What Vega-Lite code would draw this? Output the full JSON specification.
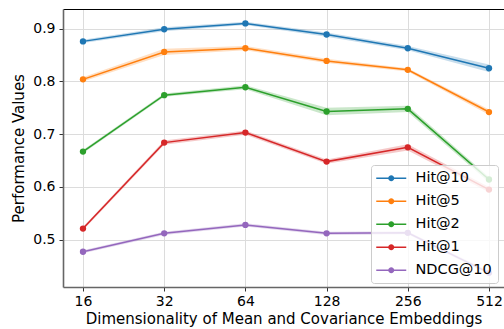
{
  "$schema": "https://vega.github.io/schema/vega-lite/v6.json",
  "width": 441,
  "height": 278,
  "autosize": {"type": "none"},
  "padding": {"left": 63, "top": 9, "right": 0, "bottom": 42},
  "config": {
    "font": "DejaVu Sans",
    "view": {"stroke": null},
    "axis": {
      "labelFont": "DejaVu Sans",
      "labelFontSize": 14,
      "labelColor": "#000000",
      "titleFont": "DejaVu Sans",
      "titleFontSize": 15,
      "titleFontWeight": "normal",
      "titleColor": "#000000",
      "gridColor": "#dcdcdc",
      "gridWidth": 1,
      "tickColor": "#333333",
      "tickSize": 4,
      "tickWidth": 1,
      "domainColor": "#666666",
      "domainWidth": 1.6
    },
    "legend": {
      "labelFont": "DejaVu Sans",
      "labelFontSize": 14.5,
      "labelColor": "#000000"
    }
  },
  "data": {
    "values": [
      {"dim": 16, "metric": "Hit@10", "value": 0.876, "lo": 0.873, "hi": 0.879},
      {"dim": 32, "metric": "Hit@10", "value": 0.899, "lo": 0.895, "hi": 0.903},
      {"dim": 64, "metric": "Hit@10", "value": 0.910, "lo": 0.907, "hi": 0.913},
      {"dim": 128, "metric": "Hit@10", "value": 0.889, "lo": 0.885, "hi": 0.893},
      {"dim": 256, "metric": "Hit@10", "value": 0.863, "lo": 0.859, "hi": 0.867},
      {"dim": 512, "metric": "Hit@10", "value": 0.825, "lo": 0.818, "hi": 0.832},
      {"dim": 16, "metric": "Hit@5", "value": 0.804, "lo": 0.800, "hi": 0.808},
      {"dim": 32, "metric": "Hit@5", "value": 0.856, "lo": 0.850, "hi": 0.862},
      {"dim": 64, "metric": "Hit@5", "value": 0.863, "lo": 0.859, "hi": 0.867},
      {"dim": 128, "metric": "Hit@5", "value": 0.839, "lo": 0.835, "hi": 0.843},
      {"dim": 256, "metric": "Hit@5", "value": 0.822, "lo": 0.819, "hi": 0.825},
      {"dim": 512, "metric": "Hit@5", "value": 0.742, "lo": 0.737, "hi": 0.747},
      {"dim": 16, "metric": "Hit@2", "value": 0.667, "lo": 0.664, "hi": 0.670},
      {"dim": 32, "metric": "Hit@2", "value": 0.774, "lo": 0.771, "hi": 0.777},
      {"dim": 64, "metric": "Hit@2", "value": 0.789, "lo": 0.785, "hi": 0.793},
      {"dim": 128, "metric": "Hit@2", "value": 0.743, "lo": 0.736, "hi": 0.750},
      {"dim": 256, "metric": "Hit@2", "value": 0.748, "lo": 0.742, "hi": 0.754},
      {"dim": 512, "metric": "Hit@2", "value": 0.614, "lo": 0.609, "hi": 0.619},
      {"dim": 16, "metric": "Hit@1", "value": 0.521, "lo": 0.518, "hi": 0.524},
      {"dim": 32, "metric": "Hit@1", "value": 0.684, "lo": 0.680, "hi": 0.688},
      {"dim": 64, "metric": "Hit@1", "value": 0.703, "lo": 0.699, "hi": 0.707},
      {"dim": 128, "metric": "Hit@1", "value": 0.648, "lo": 0.644, "hi": 0.652},
      {"dim": 256, "metric": "Hit@1", "value": 0.675, "lo": 0.669, "hi": 0.681},
      {"dim": 512, "metric": "Hit@1", "value": 0.595, "lo": 0.590, "hi": 0.600},
      {"dim": 16, "metric": "NDCG@10", "value": 0.477, "lo": 0.474, "hi": 0.480},
      {"dim": 32, "metric": "NDCG@10", "value": 0.512, "lo": 0.509, "hi": 0.515},
      {"dim": 64, "metric": "NDCG@10", "value": 0.528, "lo": 0.525, "hi": 0.531},
      {"dim": 128, "metric": "NDCG@10", "value": 0.512, "lo": 0.509, "hi": 0.515},
      {"dim": 256, "metric": "NDCG@10", "value": 0.513, "lo": 0.510, "hi": 0.516},
      {"dim": 512, "metric": "NDCG@10", "value": 0.437, "lo": 0.434, "hi": 0.440}
    ]
  },
  "resolve": {"axis": {"x": "independent"}},
  "layer": [
    {
      "mark": {"type": "area", "opacity": 0.25},
      "encoding": {
        "x": {"field": "dim", "type": "quantitative", "scale": {"type": "log", "base": 2, "domain": [13.49, 582], "nice": false, "zero": false}, "axis": null},
        "y": {"field": "lo", "type": "quantitative", "scale": {"domain": [0.4102, 0.9374], "nice": false, "zero": false}},
        "y2": {"field": "hi"},
        "color": {"field": "metric", "type": "nominal",
          "scale": {"domain": ["Hit@10", "Hit@5", "Hit@2", "Hit@1", "NDCG@10"], "range": ["#1f77b4", "#ff7f0e", "#2ca02c", "#d62728", "#9467bd"]}}
      }
    },
    {
      "mark": {"type": "line", "strokeWidth": 1.5},
      "encoding": {
        "x": {"field": "dim", "type": "quantitative",
          "axis": {"values": [16, 32, 64, 128, 256, 512], "format": "d", "title": "Dimensionality of Mean and Covariance Embeddings", "orient": "bottom", "grid": true, "labelPadding": 3, "titlePadding": 3, "labelFlush": false}},
        "y": {"field": "value", "type": "quantitative",
          "axis": {"values": [0.5, 0.6, 0.7, 0.8, 0.9], "format": ".1f", "title": "Performance Values", "grid": true, "labelPadding": 4, "titlePadding": 6}},
        "color": {"field": "metric", "type": "nominal"}
      }
    },
    {
      "mark": {"type": "point", "filled": true, "size": 40, "opacity": 1},
      "encoding": {
        "x": {"field": "dim", "type": "quantitative",
          "axis": {"orient": "top", "labels": false, "ticks": false, "grid": false, "title": null, "domainColor": "#000000", "domainWidth": 1.2}},
        "y": {"field": "value", "type": "quantitative"},
        "color": {"field": "metric", "type": "nominal",
          "legend": {
            "title": null,
            "orient": "none",
            "legendX": 308,
            "legendY": 156,
            "padding": 6,
            "rowPadding": 8,
            "symbolOffset": 7,
            "labelOffset": 17,
            "symbolType": "M-3,-0.15L3,-0.15L3,0.15L-3,0.15Z M0.6,0A0.6,0.6,0,1,1,-0.6,0A0.6,0.6,0,1,1,0.6,0Z",
            "symbolSize": 100,
            "symbolStrokeWidth": 0,
            "symbolOpacity": 1,
            "fillColor": "rgba(255,255,255,0.8)",
            "strokeColor": "#cccccc",
            "cornerRadius": 3,
            "encode": {"symbols": {"update": {"fill": {"scale": "color", "field": "value"}, "stroke": {"value": "transparent"}, "opacity": {"value": 1}, "fillOpacity": {"value": 1}}}}
          }}
      }
    }
  ]
}
